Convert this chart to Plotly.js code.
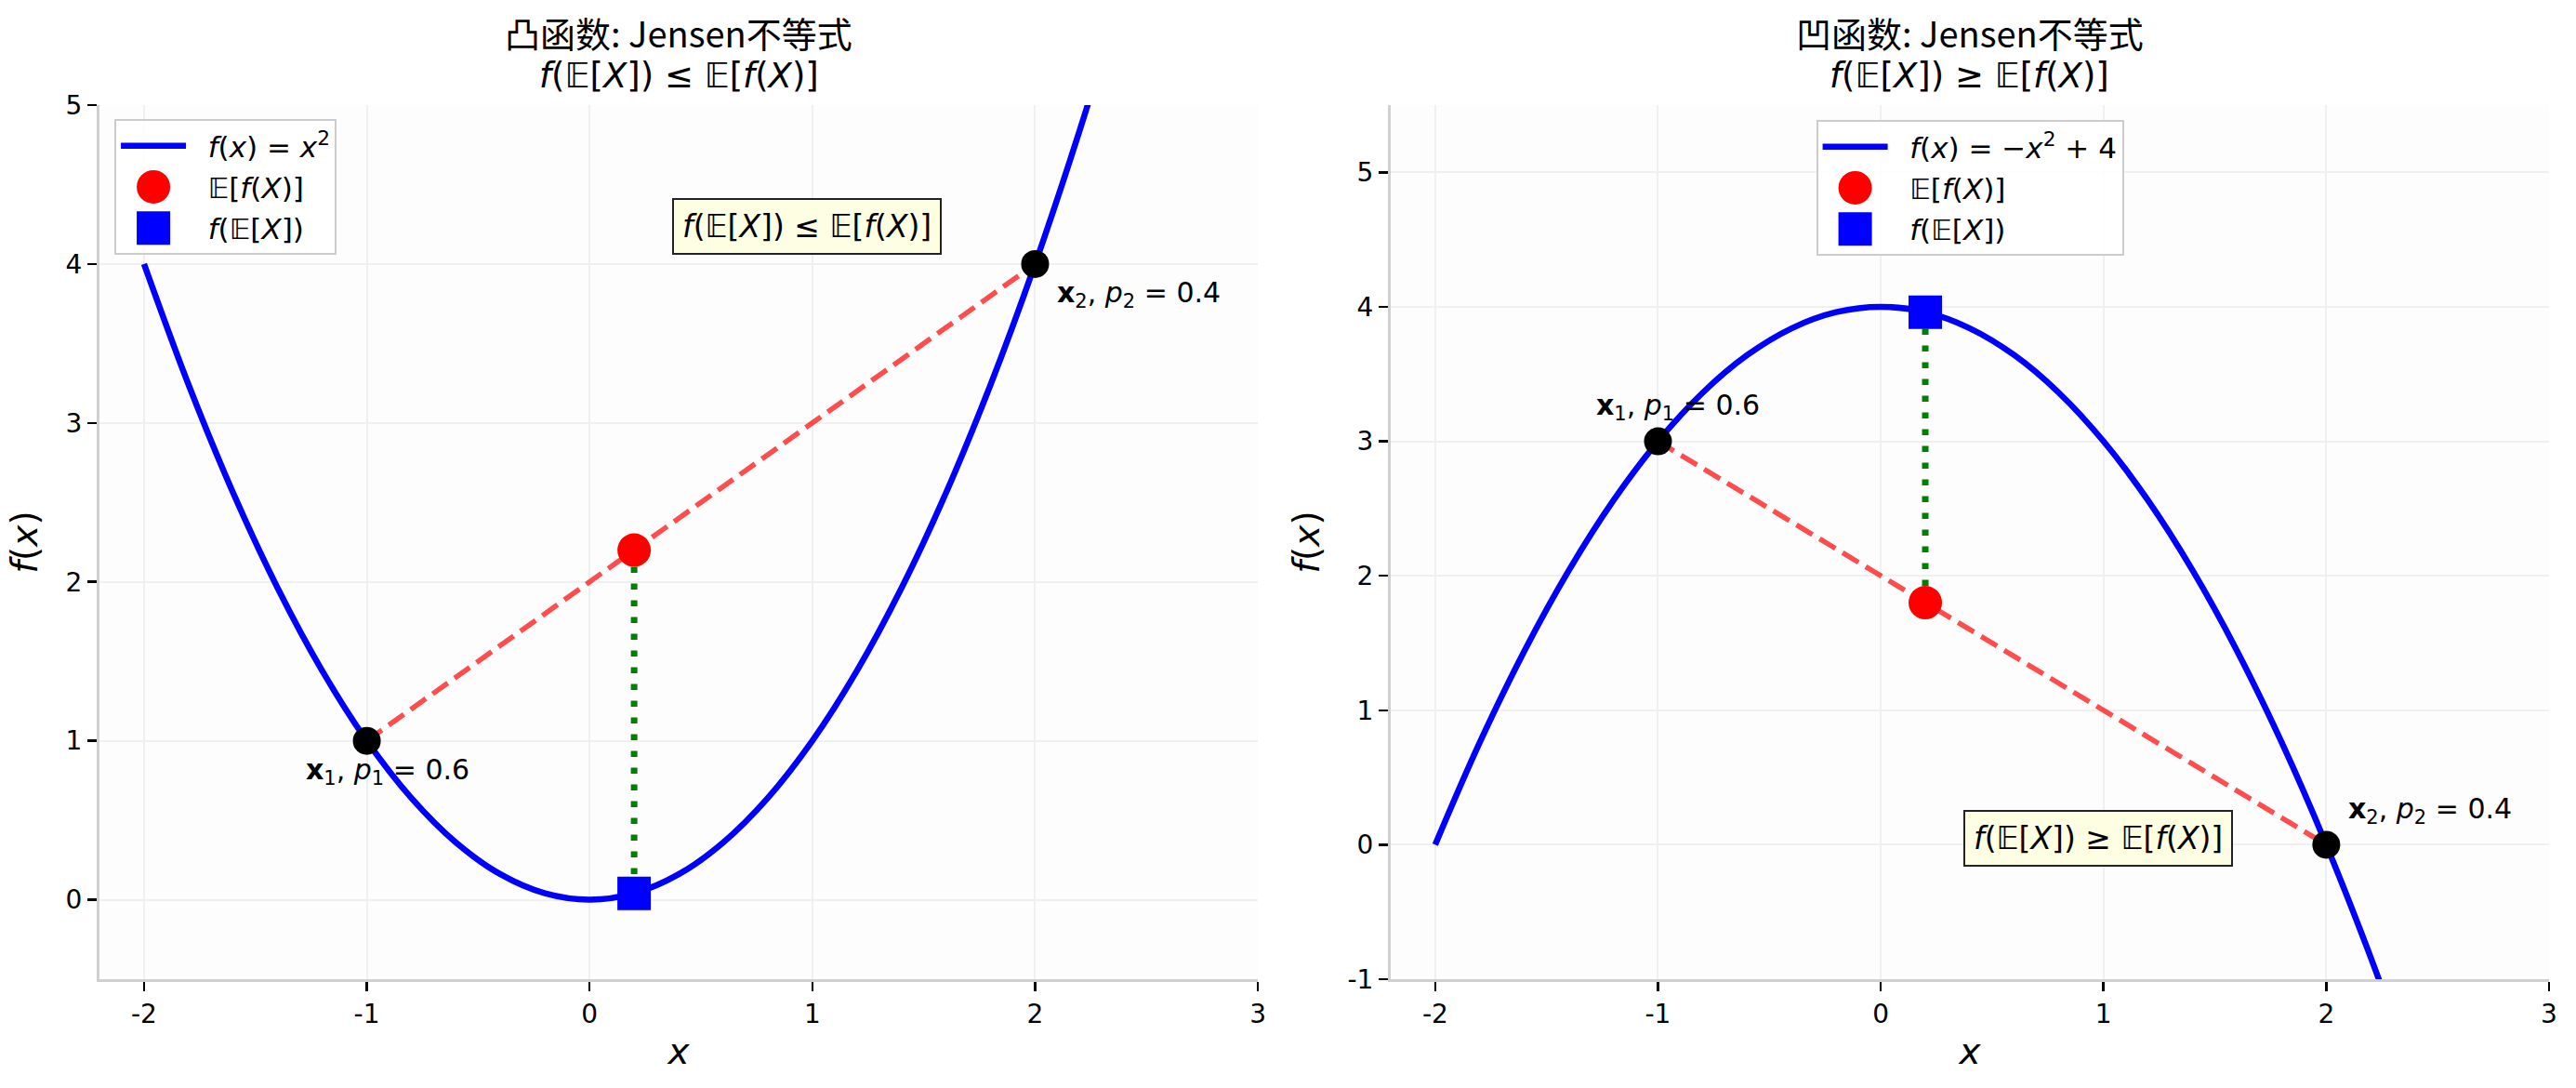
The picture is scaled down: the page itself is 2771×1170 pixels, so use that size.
<!DOCTYPE html>
<html><head><meta charset="utf-8">
<script src="https://cdn.plot.ly/plotly-3.0.1.min.js"></script>
<style>html,body{margin:0;padding:0;background:#fff}</style>
</head><body>
<div id="chart" style="width:2771px;height:1170px"></div>
<script>
// ---- data ----
const curveX    = [-2, -1.8, -1.6, -1.4, -1.2, -1, -0.8, -0.6, -0.4, -0.2, 0, 0.2, 0.4, 0.6, 0.8, 1, 1.2, 1.4, 1.6, 1.8, 2, 2.2, 2.4];
const convexY   = [4, 3.24, 2.56, 1.96, 1.44, 1, 0.64, 0.36, 0.16, 0.04, 0, 0.04, 0.16, 0.36, 0.64, 1, 1.44, 1.96, 2.56, 3.24, 4, 4.84, 5.76];
const concaveY  = [0, 0.76, 1.44, 2.04, 2.56, 3, 3.36, 3.64, 3.84, 3.96, 4, 3.96, 3.84, 3.64, 3.36, 3, 2.56, 2.04, 1.44, 0.76, 0, -0.84, -1.76];
const pointX        = [-1, 2];
const convexPointY  = [1, 4];
const concavePointY = [3, 0];
const meanX      = [0.2];
const convexEf   = [2.2];   // E[f(X)]
const convexfE   = [0.04];  // f(E[X])
const concaveEf  = [1.8];
const concavefE  = [3.96];
const xTickVals  = [-2, -1, 0, 1, 2, 3];
const xTickText  = ['-2', '-1', '0', '1', '2', '3'];
const y1TickVals = [0, 1, 2, 3, 4, 5];
const y1TickText = ['0', '1', '2', '3', '4', '5'];
const y2TickVals = [-1, 0, 1, 2, 3, 4, 5];
const y2TickText = ['-1', '0', '1', '2', '3', '4', '5'];
const titles1 = ['凸函数: Jensen不等式', '<i>f</i>(𝔼[<i>X</i>]) ≤ 𝔼[<i>f</i>(<i>X</i>)]'];
const titles2 = ['凹函数: Jensen不等式', '<i>f</i>(𝔼[<i>X</i>]) ≥ 𝔼[<i>f</i>(<i>X</i>)]'];
const pointLabels = ['<b>x</b><sub>1</sub>, <i>p</i><sub>1</sub> = 0.6', '<b>x</b><sub>2</sub>, <i>p</i><sub>2</sub> = 0.4'];
const legendNames1 = ['<i>f</i>(<i>x</i>) = <i>x</i><sup>2</sup>', '𝔼[<i>f</i>(<i>X</i>)]', '<i>f</i>(𝔼[<i>X</i>])'];
const legendNames2 = ['<i>f</i>(<i>x</i>) = −<i>x</i><sup>2</sup> + 4', '𝔼[<i>f</i>(<i>X</i>)]', '<i>f</i>(𝔼[<i>X</i>])'];

const MATH = 'DejaVu Sans';
const CJK = 'Noto Sans CJK SC, DejaVu Sans';
const GAP = '\u2002\u200a';  // space between legend symbol and label

function panel(xa, ya, leg, curveY, ptY, ef, fe, names) {
  return [
    {x: curveX, y: curveY, xaxis: xa, yaxis: ya, mode: 'lines', line: {color: '#0000ff', width: 6.5, shape: 'spline'},
     name: GAP + names[0], legend: leg, legendgroup: leg + 'a'},
    {x: pointX, y: ptY, xaxis: xa, yaxis: ya, mode: 'lines', line: {color: 'rgba(255,0,0,0.7)', width: 5.5, dash: '20px,9px'},
     showlegend: false, hoverinfo: 'skip'},
    {x: [meanX[0], meanX[0]], y: [ef[0], fe[0]], xaxis: xa, yaxis: ya, mode: 'lines', line: {color: '#008000', width: 7, dash: '6.5px,11.5px'},
     showlegend: false, hoverinfo: 'skip'},
    {x: pointX, y: ptY, xaxis: xa, yaxis: ya, mode: 'markers', marker: {color: '#000', size: 30}, showlegend: false},
    {x: meanX, y: ef, xaxis: xa, yaxis: ya, mode: 'markers', marker: {color: '#ff0000', size: 36, symbol: 'circle'},
     name: GAP + names[1], legend: leg, legendgroup: leg + 'b'},
    {x: meanX, y: fe, xaxis: xa, yaxis: ya, mode: 'markers', marker: {color: '#0000ff', size: 36, symbol: 'square'},
     name: GAP + names[2], legend: leg, legendgroup: leg + 'c'}
  ];
}

const data = [].concat(
  panel('x', 'y', 'legend', convexY, convexPointY, convexEf, convexfE, legendNames1),
  panel('x2', 'y2', 'legend2', concaveY, concavePointY, concaveEf, concavefE, legendNames2)
);

const axisCommon = {
  showline: true, linecolor: '#d0d0d0', linewidth: 3,
  ticks: 'outside', ticklen: 10, tickwidth: 2.5, tickcolor: '#000',
  showgrid: true, gridcolor: '#f0f0f0', gridwidth: 2,
  zeroline: false, tickfont: {family: MATH, size: 28, color: '#000'},
  tickmode: 'array', fixedrange: true
};
const xTitle = {text: '<i>x</i>', font: {family: MATH, size: 39, color: '#000'}, standoff: 12};
const yTitle = {text: '<i>f</i>(<i>x</i>)', font: {family: MATH, size: 39, color: '#000'}, standoff: 18};

const legendCommon = {
  bgcolor: 'rgba(255,255,255,0.85)', bordercolor: '#cccccc', borderwidth: 2,
  font: {family: MATH, size: 31, color: '#000'}, traceorder: 'grouped', tracegroupgap: 1,
  itemwidth: 70, yanchor: 'top'
};

function titleAnn(xref, lines) {
  return [
    {xref: xref, yref: 'paper', x: 0.5, y: 1.083, text: lines[0], showarrow: false, xanchor: 'center', yanchor: 'middle',
     font: {family: CJK, size: 38, color: '#000'}},
    {xref: xref, yref: 'paper', x: 0.5, y: 1.034, text: lines[1], showarrow: false, xanchor: 'center', yanchor: 'middle',
     font: {family: MATH, size: 37, color: '#000'}}
  ];
}
function label(xa, ya, x, y, txt, xs, ys) {
  return {xref: xa, yref: ya, x: x, y: y, text: txt, showarrow: false, xanchor: 'left', yanchor: 'middle',
          xshift: xs, yshift: ys, font: {family: MATH, size: 30, color: '#000'}};
}
function boxAnn(xref, yref, y, txt) {
  return {xref: xref, yref: yref, x: 0.611, y: y, text: txt, showarrow: false, xanchor: 'center', yanchor: 'middle',
          font: {family: MATH, size: 33, color: '#000'}, bgcolor: '#fefee2', bordercolor: '#222222', borderwidth: 2, borderpad: 9};
}

const layout = {
  width: 2771, height: 1170,
  margin: {l: 107, r: 29, t: 113, b: 117, autoexpand: false},
  paper_bgcolor: '#ffffff', plot_bgcolor: '#fdfdfd',
  showlegend: true,
  xaxis: Object.assign({}, axisCommon, {domain: [0, 0.4729], range: [-2.2, 3], tickvals: xTickVals, ticktext: xTickText, anchor: 'y', title: xTitle}),
  yaxis: Object.assign({}, axisCommon, {domain: [0, 1], range: [-0.5, 5], tickvals: y1TickVals, ticktext: y1TickText, anchor: 'x', title: yTitle}),
  xaxis2: Object.assign({}, axisCommon, {domain: [0.5271, 1], range: [-2.2, 3], tickvals: xTickVals, ticktext: xTickText, anchor: 'y2', title: xTitle}),
  yaxis2: Object.assign({}, axisCommon, {domain: [0, 1], range: [-1, 5.5], tickvals: y2TickVals, ticktext: y2TickText, anchor: 'x2', title: yTitle}),
  legend: Object.assign({}, legendCommon, {x: 0.0061, y: 0.984, xanchor: 'left'}),
  legend2: Object.assign({}, legendCommon, {x: 0.7636, y: 0.983, xanchor: 'center'}),
  annotations: [].concat(
    titleAnn('x domain', titles1),
    titleAnn('x2 domain', titles2),
    [
      label('x', 'y', pointX[0], convexPointY[0], pointLabels[0], -68, -33),
      label('x', 'y', pointX[1], convexPointY[1], pointLabels[1], 22, -33),
      label('x2', 'y2', pointX[0], concavePointY[0], pointLabels[0], -68, 37),
      label('x2', 'y2', pointX[1], concavePointY[1], pointLabels[1], 22, 37),
      boxAnn('x domain', 'y domain', 0.861, titles1[1]),
      boxAnn('x2 domain', 'y2 domain', 0.161, titles2[1])
    ]
  )
};

Plotly.newPlot('chart', data, layout, {staticPlot: true}).then(function () {
  document.querySelectorAll('.legendpoints path.scatterpts').forEach(function (p) {
    const t = p.getAttribute('transform') || '';
    p.setAttribute('transform', t + ' scale(2.25)');
  });
});
</script>
</body></html>
